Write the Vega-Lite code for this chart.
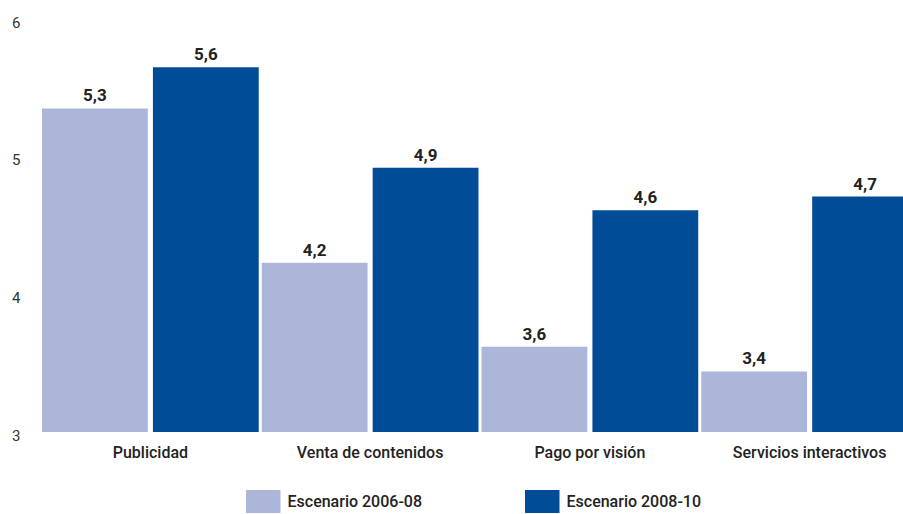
{
  "$schema": "https://vega.github.io/schema/vega-lite/v6.json",
  "width": 876,
  "height": 413,
  "autosize": "none",
  "padding": {"left": 42, "top": 19, "right": 0, "bottom": 82},
  "config": {"view": {"stroke": null}, "font": "Roboto"},
  "data": {
    "values": [
      {"cat": "Publicidad", "scen": "Escenario 2006-08", "value": 5.35, "label": "5,3"},
      {"cat": "Publicidad", "scen": "Escenario 2008-10", "value": 5.65, "label": "5,6"},
      {"cat": "Venta de contenidos", "scen": "Escenario 2006-08", "value": 4.23, "label": "4,2"},
      {"cat": "Venta de contenidos", "scen": "Escenario 2008-10", "value": 4.92, "label": "4,9"},
      {"cat": "Pago por visión", "scen": "Escenario 2006-08", "value": 3.62, "label": "3,6"},
      {"cat": "Pago por visión", "scen": "Escenario 2008-10", "value": 4.61, "label": "4,6"},
      {"cat": "Servicios interactivos", "scen": "Escenario 2006-08", "value": 3.44, "label": "3,4"},
      {"cat": "Servicios interactivos", "scen": "Escenario 2008-10", "value": 4.71, "label": "4,7"}
    ]
  },
  "encoding": {
    "x": {
      "field": "cat",
      "type": "nominal",
      "sort": ["Publicidad", "Venta de contenidos", "Pago por visión", "Servicios interactivos"],
      "scale": {"paddingInner": 0.0137, "paddingOuter": 0},
      "axis": {
        "title": null,
        "labelAngle": 0,
        "domain": false,
        "ticks": false,
        "labelPadding": 12,
        "labelFontSize": 16,
        "labelFontWeight": 500,
        "labelColor": "#222222",
        "labelFont": "Roboto"
      }
    },
    "xOffset": {
      "field": "scen",
      "type": "nominal",
      "scale": {"paddingInner": 0.046, "paddingOuter": 0}
    }
  },
  "layer": [
    {
      "mark": {"type": "bar"},
      "encoding": {
        "y": {
          "field": "value",
          "type": "quantitative",
          "scale": {"domain": [3, 6], "nice": false, "zero": false},
          "axis": {
            "title": null,
            "domain": false,
            "ticks": false,
            "grid": false,
            "values": [3, 4, 5, 6],
            "format": "d",
            "labelPadding": 22,
            "labelFontSize": 15,
            "labelColor": "#333333",
            "labelOffset": 3,
            "labelFlush": false,
            "labelFont": "Roboto"
          }
        },
        "y2": {"datum": 3},
        "color": {
          "field": "scen",
          "type": "nominal",
          "scale": {
            "domain": ["Escenario 2006-08", "Escenario 2008-10"],
            "range": ["#abb6d9", "#004c97"]
          },
          "legend": {
            "title": null,
            "orient": "none",
            "direction": "horizontal",
            "legendX": 204,
            "legendY": 471,
            "symbolType": "M-1,-1H2V1H-1Z",
            "symbolSize": 529,
            "symbolStrokeWidth": 0,
            "symbolOpacity": 1,
            "labelOffset": 18.5,
            "labelFontSize": 16,
            "labelFontWeight": 500,
            "labelColor": "#222222",
            "labelFont": "Roboto",
            "columnPadding": 102,
            "labelLimit": 300
          }
        }
      }
    },
    {
      "mark": {"type": "text", "dy": -12, "fontWeight": "bold", "fontSize": 17, "color": "#222222", "font": "Roboto"},
      "encoding": {
        "y": {"field": "value", "type": "quantitative"},
        "text": {"field": "label"}
      }
    }
  ]
}
